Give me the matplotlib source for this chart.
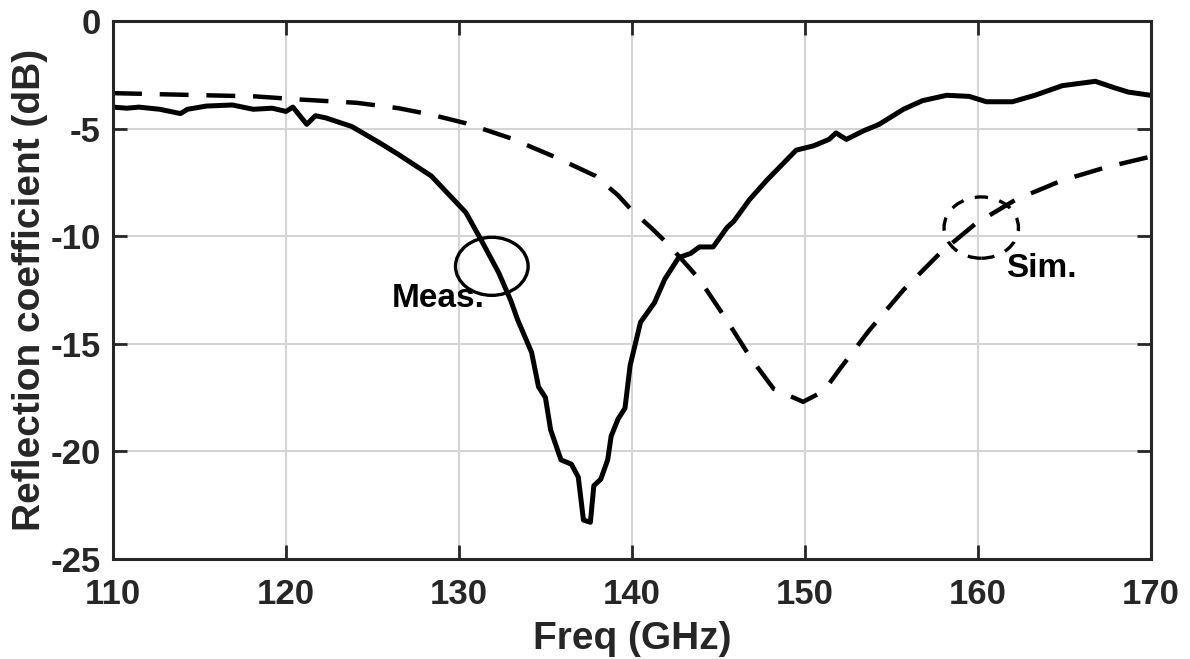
#!/usr/bin/env python3
"""Reflection coefficient vs frequency: measured vs simulated."""

import matplotlib
matplotlib.use("Agg")
import matplotlib.pyplot as plt
from matplotlib.patches import Ellipse

plt.rcParams["font.family"] = ["Liberation Sans", "DejaVu Sans"]
plt.rcParams["font.weight"] = "bold"
plt.rcParams["axes.unicode_minus"] = False

meas_freq = [110.0, 110.8, 111.5, 112.7, 113.9, 114.3, 115.4, 116.9, 118.1, 119.2,
             120.0, 120.4, 121.2, 121.7, 122.3, 123.8, 125.5, 126.5, 128.4, 130.4,
             131.3, 132.3, 133.0, 133.4, 134.2, 134.6, 135.0, 135.3, 135.9, 136.5,
             136.9, 137.2, 137.6, 137.8, 138.2, 138.6, 138.8, 139.2, 139.6, 139.9,
             140.5, 141.3, 141.9, 142.7, 143.4, 143.9, 144.7, 145.5, 145.9, 146.8,
             147.8, 149.5, 150.5, 151.4, 151.8, 152.4, 153.4, 154.3, 155.7, 156.8,
             158.2, 159.5, 160.5, 162.0, 163.3, 164.9, 166.8, 167.9, 168.7, 170.0]
meas_db = [-4.0, -4.05, -4.0, -4.1, -4.3, -4.1, -3.95, -3.9, -4.1, -4.05,
           -4.2, -4.0, -4.8, -4.4, -4.5, -4.9, -5.7, -6.2, -7.2, -8.9,
           -10.2, -11.7, -13.0, -13.9, -15.4, -17.0, -17.5, -19.0, -20.4, -20.6,
           -21.2, -23.2, -23.3, -21.6, -21.3, -20.4, -19.3, -18.5, -18.0, -16.0,
           -14.0, -13.1, -12.0, -11.0, -10.8, -10.5, -10.5, -9.6, -9.3, -8.3,
           -7.4, -6.0, -5.8, -5.5, -5.2, -5.5, -5.1, -4.8, -4.1, -3.7,
           -3.45, -3.5, -3.75, -3.75, -3.45, -3.0, -2.8, -3.1, -3.3, -3.45]

# Simulated S11
sim_freq = [110.0, 112.7, 115.4, 118.2, 120.9, 124.1, 126.5, 128.4, 130.4, 133.0,
            135.5, 137.9, 139.2, 140.0, 141.1, 142.0, 142.8, 143.9, 145.4, 146.9,
            148.2, 149.9, 151.1, 152.0, 153.7, 155.7, 157.8, 159.9, 162.2, 164.9,
            167.4, 170.0]
sim_db = [-3.35, -3.4, -3.45, -3.5, -3.65, -3.8, -4.05, -4.35, -4.75, -5.45,
          -6.3, -7.2, -8.1, -8.8, -9.6, -10.3, -11.0, -12.0, -13.8, -15.7,
          -17.1, -17.7, -17.2, -16.2, -14.4, -12.5, -10.8, -9.4, -8.3, -7.4,
          -6.8, -6.3]

x_ticks = [110, 120, 130, 140, 150, 160, 170]
y_ticks = [-25, -20, -15, -10, -5, 0]

fig = plt.figure(figsize=(11.9, 6.59), dpi=100)
ax = fig.add_axes([0.095, 0.152, 0.872, 0.816])

ax.plot(meas_freq, meas_db, "-", color="black", linewidth=3.6, solid_joinstyle="round")
ax.plot(sim_freq, sim_db, color="black", linewidth=3.2, linestyle=(0, (6.5, 4)))

# annotation ellipses
ax.add_patch(Ellipse((131.9, -11.4), 4.2, 2.7, fill=False, edgecolor="black", linewidth=2.4))
ax.add_patch(Ellipse((160.2, -9.6), 4.3, 2.85, fill=False, edgecolor="black",
                     linewidth=2.4, linestyle=(0, (4, 3.5))))
ax.text(128.8, -12.9, "Meas.", fontsize=24, fontweight="bold", ha="center", va="center")
ax.text(163.7, -11.5, "Sim.", fontsize=24, fontweight="bold", ha="center", va="center")

ax.set_xlim(110, 170)
ax.set_ylim(-25, 0)
ax.set_xticks(x_ticks)
ax.set_yticks(y_ticks)
ax.grid(True, color="#d4d4d4", linewidth=1.5)
ax.set_axisbelow(True)
ax.tick_params(direction="in", length=10, width=2, top=True, right=True,
               labelsize=25, colors="#262626")
ax.tick_params(axis="x", pad=14)
ax.tick_params(axis="y", pad=9)
for s in ax.spines.values():
    s.set_linewidth(2.2)
    s.set_color("#262626")
for lab in ax.get_xticklabels() + ax.get_yticklabels():
    lab.set_fontweight("bold")

ax.set_xlabel("Freq (GHz)", fontsize=28, fontweight="bold", color="#262626", labelpad=7)
ax.set_ylabel("Reflection coefficient (dB)", fontsize=28, fontweight="bold",
              color="#262626", labelpad=2)

fig.savefig("out.png", dpi=100)
